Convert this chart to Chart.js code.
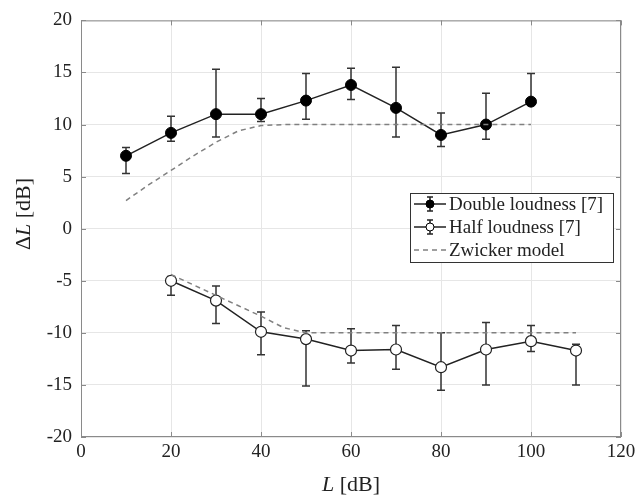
<!DOCTYPE html>
<html>
<head>
<meta charset="utf-8">
<script src="https://cdn.jsdelivr.net/npm/chart.js@4/dist/chart.umd.min.js"></script>
<style>
  html, body { margin: 0; padding: 0; background: #fff; }
  #wrap { width: 640px; height: 500px; }
</style>
</head>
<body>
<div id="wrap"><canvas id="chart"></canvas></div>
<script>
// Double loudness [7]
const doubleL = [10, 20, 30, 40, 50, 60, 70, 80, 90, 100];
const doubleMean = [7.0, 9.2, 11.0, 11.0, 12.3, 13.8, 11.6, 9.0, 10.0, 12.2];
const doubleLow = [5.3, 8.4, 8.8, 10.3, 10.5, 12.4, 8.8, 7.9, 8.6, 11.9];
const doubleHigh = [7.8, 10.8, 15.3, 12.5, 14.9, 15.4, 15.5, 11.1, 13.0, 14.9];

// Half loudness [7]
const halfL = [20, 30, 40, 50, 60, 70, 80, 90, 100, 110];
const halfMean = [-5.0, -6.9, -9.9, -10.6, -11.7, -11.6, -13.3, -11.6, -10.8, -11.7];
const halfLow = [-6.4, -9.1, -12.1, -15.1, -12.9, -13.5, -15.5, -15.0, -11.8, -15.0];
const halfHigh = [-4.6, -5.5, -8.0, -9.8, -9.6, -9.3, -10.0, -9.0, -9.3, -11.1];

// Zwicker model
const zwUpL = [10, 15, 20, 25, 30, 35, 40, 45, 50, 60, 70, 80, 90, 100];
const zwUp = [2.7, 4.2, 5.6, 7.0, 8.3, 9.4, 9.9, 10, 10, 10, 10, 10, 10, 10];
const zwLowL = [20, 25, 30, 35, 40, 45, 50, 60, 70, 80, 90, 100, 110];
const zwLow = [-4.4, -5.4, -6.4, -7.4, -8.4, -9.5, -10, -10, -10, -10, -10, -10, -10];

const legendLabels = ['Double loudness [7]', 'Half loudness [7]', 'Zwicker model'];

const pts = (xs, ys) => xs.map((x, i) => ({ x: x, y: ys[i] }));
const SERIF = '"Liberation Serif", "DejaVu Serif", serif';

// error bars, drawn under the markers
const errorBars = {
  id: 'errorBars',
  beforeDatasetsDraw(chart) {
    const ctx = chart.ctx;
    const xs = chart.scales.x, ys = chart.scales.y;
    const sets = [[doubleL, doubleLow, doubleHigh], [halfL, halfLow, halfHigh]];
    ctx.save();
    ctx.strokeStyle = '#333';
    ctx.lineWidth = 1.5;
    sets.forEach(([L, lo, hi]) => {
      L.forEach((l, i) => {
        const px = xs.getPixelForValue(l);
        const y1 = ys.getPixelForValue(lo[i]);
        const y2 = ys.getPixelForValue(hi[i]);
        ctx.beginPath();
        ctx.moveTo(px, y1); ctx.lineTo(px, y2);
        ctx.moveTo(px - 4, y1); ctx.lineTo(px + 4, y1);
        ctx.moveTo(px - 4, y2); ctx.lineTo(px + 4, y2);
        ctx.stroke();
      });
    });
    ctx.restore();
  }
};

// box, inward ticks, axis titles and legend
const frame = {
  id: 'frame',
  afterDraw(chart) {
    const ctx = chart.ctx;
    const a = chart.chartArea;
    const xs = chart.scales.x, ys = chart.scales.y;
    ctx.save();
    ctx.strokeStyle = '#8a8a8a';
    ctx.lineWidth = 1;
    ctx.strokeRect(a.left + 0.5, a.top + 0.5, a.right - a.left - 1, a.bottom - a.top - 1);
    ctx.beginPath();
    xs.ticks.forEach(t => {
      const px = Math.round(xs.getPixelForValue(t.value)) + 0.5;
      ctx.moveTo(px, a.bottom); ctx.lineTo(px, a.bottom - 5);
      ctx.moveTo(px, a.top); ctx.lineTo(px, a.top + 5);
    });
    ys.ticks.forEach(t => {
      const py = Math.round(ys.getPixelForValue(t.value)) + 0.5;
      ctx.moveTo(a.left, py); ctx.lineTo(a.left + 5, py);
      ctx.moveTo(a.right, py); ctx.lineTo(a.right - 5, py);
    });
    ctx.stroke();

    // axis titles with italic L
    const drawTitle = (parts, cx, cy, rot) => {
      ctx.save();
      ctx.translate(cx, cy);
      ctx.rotate(rot);
      ctx.fillStyle = '#222';
      ctx.textBaseline = 'middle';
      let w = 0;
      parts.forEach(p => { ctx.font = p[1]; w += ctx.measureText(p[0]).width; });
      let x = -w / 2;
      parts.forEach(p => {
        ctx.font = p[1];
        ctx.fillText(p[0], x, 0);
        x += ctx.measureText(p[0]).width;
      });
      ctx.restore();
    };
    const n = '22px ' + SERIF, it = 'italic 22px ' + SERIF;
    drawTitle([['L', it], [' [dB]', n]], (a.left + a.right) / 2, 485, 0);
    drawTitle([['\u0394', n], ['L', it], [' [dB]', n]], 24, 214, -Math.PI / 2);

    // legend
    const bx = 410, by = 193, bw = 203, bh = 69;
    ctx.fillStyle = '#fff';
    ctx.fillRect(bx, by, bw, bh);
    ctx.strokeStyle = '#333';
    ctx.strokeRect(bx + 0.5, by + 0.5, bw, bh);
    const rows = [204, 227, 250];
    ctx.font = '19px ' + SERIF;
    ctx.textBaseline = 'middle';
    rows.forEach((ry, i) => {
      const x0 = 414, x1 = 446, xm = 430;
      ctx.lineWidth = 1.5;
      if (i < 2) {
        ctx.strokeStyle = '#222';
        ctx.setLineDash([]);
        ctx.beginPath();
        ctx.moveTo(x0, ry); ctx.lineTo(x1, ry);
        ctx.moveTo(xm, ry - 7); ctx.lineTo(xm, ry + 7);
        ctx.moveTo(xm - 3, ry - 7); ctx.lineTo(xm + 3, ry - 7);
        ctx.moveTo(xm - 3, ry + 7); ctx.lineTo(xm + 3, ry + 7);
        ctx.stroke();
        ctx.beginPath();
        ctx.arc(xm, ry, 4, 0, Math.PI * 2);
        ctx.fillStyle = i === 0 ? '#000' : '#fff';
        ctx.fill();
        ctx.lineWidth = 1;
        ctx.strokeStyle = '#000';
        ctx.stroke();
      } else {
        ctx.strokeStyle = '#808080';
        ctx.setLineDash([5, 4]);
        ctx.beginPath();
        ctx.moveTo(x0, ry); ctx.lineTo(x1, ry);
        ctx.stroke();
        ctx.setLineDash([]);
      }
      ctx.fillStyle = '#222';
      ctx.fillText(legendLabels[i], 449, ry + 1);
    });
    ctx.restore();
  }
};

new Chart(document.getElementById('chart').getContext('2d'), {
  type: 'line',
  data: {
    datasets: [
      {
        label: 'Zwicker model upper',
        data: pts(zwUpL, zwUp),
        borderColor: '#808080',
        borderWidth: 1.5,
        borderDash: [5, 4],
        pointRadius: 0,
        tension: 0
      },
      {
        label: 'Zwicker model lower',
        data: pts(zwLowL, zwLow),
        borderColor: '#808080',
        borderWidth: 1.5,
        borderDash: [5, 4],
        pointRadius: 0,
        tension: 0
      },
      {
        label: legendLabels[0],
        data: pts(doubleL, doubleMean),
        borderColor: '#222',
        borderWidth: 1.5,
        pointRadius: 5.5,
        pointBackgroundColor: '#000',
        pointBorderColor: '#000',
        pointBorderWidth: 1
      },
      {
        label: legendLabels[1],
        data: pts(halfL, halfMean),
        borderColor: '#222',
        borderWidth: 1.5,
        pointRadius: 5.5,
        pointBackgroundColor: '#fff',
        pointBorderColor: '#222',
        pointBorderWidth: 1.2
      }
    ]
  },
  options: {
    responsive: true,
    maintainAspectRatio: false,
    animation: false,
    layout: { padding: { top: 17, right: 19, left: 0, bottom: 0 } },
    plugins: {
      legend: { display: false },
      tooltip: { enabled: false }
    },
    scales: {
      x: {
        type: 'linear',
        min: 0,
        max: 120,
        afterFit: s => { s.height = 63; },
        ticks: {
          stepSize: 20,
          padding: 4,
          color: '#222',
          font: { family: SERIF, size: 19 }
        },
        grid: { color: '#e6e6e6', drawTicks: false },
        border: { display: false }
      },
      y: {
        min: -20,
        max: 20,
        afterFit: s => { s.width = 81; },
        ticks: {
          stepSize: 5,
          padding: 9,
          color: '#222',
          font: { family: SERIF, size: 19 }
        },
        grid: { color: '#e6e6e6', drawTicks: false },
        border: { display: false }
      }
    }
  },
  plugins: [errorBars, frame]
});
</script>
</body>
</html>
